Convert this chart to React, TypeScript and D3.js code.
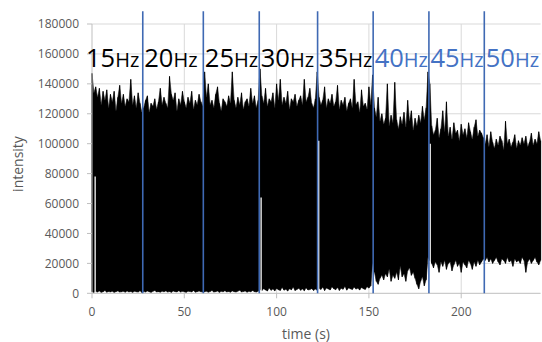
import React from "react";
import * as d3 from "d3";

// Frequency segments
const hzLabels = ["15", "20", "25", "30", "35", "40", "45", "50"];
const segStarts = [0, 28, 61, 91, 122, 152, 182, 212];
const boundaries = [27.5, 60.3, 90.6, 122.2, 152.3, 182.5, 212.5];

// Upper envelope (peak intensity, thousands) per second
const peak15 = [147,134,138,131,137,126,135,129,136,124,133,128,135,122,131,139,127,133,125,130,128,143,126,132,124,134,127,121];
const peak20 = [124,129,132,121,127,125,130,123,128,137,126,131,127,124,145,133,129,134,122,130,126,135,128,124,131,127,135,123,129,126,133,128,125];
const peak25 = [148,131,140,126,129,124,133,138,127,122,130,128,125,132,127,148,129,124,131,126,134,123,128,130,125,137,127,132,124,129];
const peak30 = [150,132,127,137,125,130,128,134,124,140,129,143,126,131,127,135,123,130,128,133,125,129,132,126,143,128,131,137,127,124,130];
const peak35 = [148,131,126,129,138,124,130,127,133,125,128,139,123,129,126,131,122,127,130,124,143,126,128,121,136,125,127,123,138,126];
const peak40 = [146,124,118,131,115,120,113,117,140,112,119,114,141,116,110,118,113,121,111,129,115,122,109,117,112,119,114,125,116,124];
const peak45 = [148,140,112,106,109,117,104,110,122,108,128,105,111,103,114,107,109,102,113,106,110,104,114,108,103,111,116,105,109,107];
const peak50 = [104,100,106,98,108,101,97,103,99,105,102,96,115,100,103,98,101,106,97,102,99,104,100,105,98,101,107,99,103,100,108,102];

// Lower envelope (thousands) per second
const low15 = [1,0.5,1.2,0.8,1.5,0.6,1,1.8,0.7,1.2,0.9,1.4,0.6,1.1,1.6,0.8,1,1.3,0.7,1.5,0.9,1.2,0.6,1.4,1,0.8,1.7,0.5];
const low20 = [1.2,0.8,1.5,1,0.6,1.3,1.8,0.9,1.1,0.7,1.4,1,1.6,0.8,1.2,0.6,1.5,1.1,0.9,1.7,0.8,1.3,1,0.6,1.4,1.2,0.9,1.8,0.7,1.1,1.5,1,0.8];
const low25 = [1,1.4,0.7,1.2,1.9,0.8,1.1,1.5,0.6,1.3,1,1.7,0.9,1.2,0.7,1.6,1.1,0.8,1.4,2,0.9,1.2,1.5,0.7,1.3,1,1.8,1.1,0.8,1.4];
const low30 = [2.5,1.8,3,2.2,1.5,3.5,2,2.8,1.6,3.2,2.4,1.9,3.8,2.1,2.7,1.5,3,2.3,4,1.8,2.6,3.3,2,2.9,1.7,3.6,2.2,2.5,3.1,1.9,2.8];
const low35 = [2,3.2,2.6,4,1.8,3.5,2.9,2.2,4.2,3,2.4,3.8,1.9,3.3,2.7,4.5,2.1,3.6,3,2.5,4,2.8,3.4,2.2,3.9,3.1,2.6,4.3,3.5,5];
const low40 = [20,14,8,6,10,12,9,13,11,16,8,12,10,14,9,18,11,13,8,15,17,12,14,10,6,3,8,11,5,9];
const low45 = [24,22,20,17,21,19,14,21,18,22,16,20,21,15,19,22,18,20,14,21,19,17,22,20,16,21,18,22,19,21];
const low50 = [23,22,24,21,23,20,22,24,21,19,23,22,20,24,21,22,18,23,21,22,20,24,22,14,21,23,20,22,24,21,19,22];

// Brief dropouts in the signal (time s, height in thousands)
const gapTimes = [1.7, 91.6, 122.8, 183.2];
const gapTops = [78, 64, 102, 100];

const yTicks = [0, 20000, 40000, 60000, 80000, 100000, 120000, 140000, 160000, 180000];
const xTicks = [0, 50, 100, 150, 200];

const peaks = [peak15, peak20, peak25, peak30, peak35, peak40, peak45, peak50];
const lows = [low15, low20, low25, low30, low35, low40, low45, low50];

type Pt = { t: number; hi: number; lo: number };

export default function App() {
  const W = 542, H = 342;
  const x = d3.scaleLinear().domain([0, 243]).range([92, 540.6]);
  const y = d3.scaleLinear().domain([0, 180000]).range([293.3, 24]);

  const pts: Pt[] = [];
  peaks.forEach((arr, s) => {
    arr.forEach((v, i) => {
      pts.push({ t: segStarts[s] + i, hi: v * 1000, lo: lows[s][i] * 1000 });
    });
  });

  const area = d3
    .area<Pt>()
    .x((d) => x(d.t))
    .y0((d) => y(d.lo))
    .y1((d) => y(d.hi))
    .curve(d3.curveLinear);

  const grid = "#d9d9d9";
  const axisCol = "#bfbfbf";
  const textCol = "#595959";
  const blue = "#4472C4";
  const lineBlue = "#3F69B3";
  const font = "'Open Sans', 'Noto Sans', sans-serif";

  return (
    <svg width={W} height={H} style={{ position: "absolute", left: 0, top: 0, background: "#fff" }} fontFamily={font}>
      <rect x={0} y={0} width={W} height={H} fill="#fff" />
      {/* grid */}
      {yTicks.filter((v) => v > 0).map((v) => (
        <line key={"gy" + v} x1={x(0)} x2={x(243)} y1={y(v)} y2={y(v)} stroke={grid} strokeWidth={1} />
      ))}
      {xTicks.filter((v) => v > 0).map((v) => (
        <line key={"gx" + v} x1={x(v)} x2={x(v)} y1={y(0)} y2={y(180000)} stroke={grid} strokeWidth={1} />
      ))}
      {/* signal */}
      <path d={area(pts) || ""} fill="#000" stroke="#222" strokeWidth={0.6} />
      {pts.map((d, i) => (
        <line key={"s" + i} x1={x(d.t)} x2={x(d.t)} y1={y(d.lo)} y2={y(d.hi)} stroke="#000" strokeWidth={1} />
      ))}
      {gapTimes.map((t, i) => (
        <line key={"gap" + i} x1={x(t)} x2={x(t)} y1={y(0)} y2={y(gapTops[i] * 1000)} stroke="#fff" strokeWidth={1.3} />
      ))}
      {/* axes */}
      <line x1={x(0)} x2={x(0)} y1={y(0)} y2={y(180000)} stroke={axisCol} />
      <line x1={x(0)} x2={x(243)} y1={y(0)} y2={y(0)} stroke={axisCol} />
      {yTicks.map((v) => (
        <g key={"yt" + v}>
          <line x1={x(0) - 5} x2={x(0)} y1={y(v)} y2={y(v)} stroke={axisCol} />
          <text x={x(0) - 13} y={y(v)} dy="0.36em" textAnchor="end" fontSize={12} fill={textCol}>
            {v}
          </text>
        </g>
      ))}
      {xTicks.map((v) => (
        <g key={"xt" + v}>
          <line x1={x(v)} x2={x(v)} y1={y(0)} y2={y(0) + 5} stroke={axisCol} />
          <text x={x(v)} y={y(0) + 23} textAnchor="middle" fontSize={12} fill={textCol}>
            {v}
          </text>
        </g>
      ))}
      <text x={306} y={339} textAnchor="middle" fontSize={14} fill={textCol}>
        time (s)
      </text>
      <text transform={`translate(23,164) rotate(-90)`} textAnchor="middle" fontSize={14} fill={textCol}>
        intensity
      </text>
      {/* segment boundaries */}
      {boundaries.map((t, i) => (
        <line key={"b" + i} x1={x(t)} x2={x(t)} y1={y(0)} y2={y(188500)} stroke={lineBlue} strokeWidth={1.6} />
      ))}
      {/* labels */}
      {hzLabels.map((h, i) => {
        const lx = i === 0 ? x(0) - 6 : x(boundaries[i - 1]) + 1.5;
        return (
          <text key={"l" + h} x={lx} y={67} fill={i >= 5 ? blue : "#000"}>
            <tspan fontSize={25.5}>{h}</tspan>
            <tspan fontSize={20}>Hz</tspan>
          </text>
        );
      })}
    </svg>
  );
}
